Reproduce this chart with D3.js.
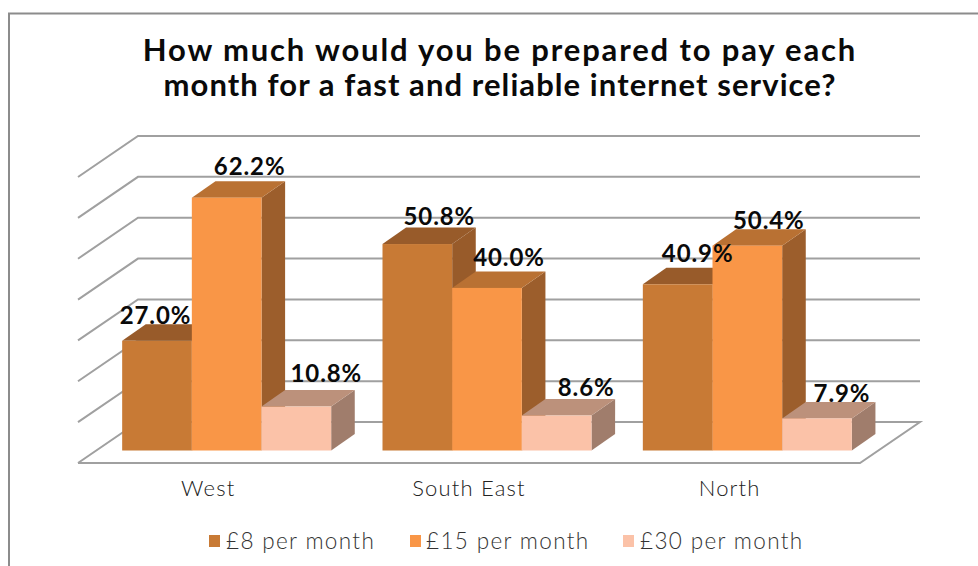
<!DOCTYPE html>
<html><head><meta charset="utf-8">
<script src="https://cdn.jsdelivr.net/npm/d3@7/dist/d3.min.js"></script>
<style>html,body{margin:0;padding:0;background:#fff}svg{display:block}text{font-family:Lato,"Open Sans",sans-serif}</style>
</head><body><svg id="c" width="978" height="566"></svg>
<script>
const titleLines = ["How much would you be prepared to pay each", "month for a fast and reliable internet service?"];
const categories = ["West", "South East", "North"];
const seriesNames = ["£8 per month", "£15 per month", "£30 per month"];
const series8 = [27.0, 50.8, 40.9];
const series15 = [62.2, 40.0, 50.4];
const series30 = [10.8, 8.6, 7.9];
const valueTicks = [0, 10, 20, 30, 40, 50, 60, 70];

// styling and layout
const frontColors = ["#c87a35", "#f99647", "#fbc2a8"];
const topColors = ["#985b2a", "#b97133", "#bc917b"];
const sideColors = ["#985b2a", "#9c5e2c", "#a07d6c"];
const gridColor = "#a0a0a0";
const titleSpacing = [1.85, 1.08];
const depth = {x: 60, y: -41};
const barDepth = {x: 23.6, y: -16.5};
// hand-placed label nudges from the bar's front-top centre, by series then category
const labelNudgeX = [[-1.5, 22, 20], [23, 22, 21.5], [30, 29.5, 25]];
const labelNudgeY = [[-17, -19, -22], [-23, -22, -16.5], [-25, -20, -16]];

const svg = d3.select("#c");
const data = [series8, series15, series30];

// frame: only top and left edges are visible
svg.append("path").attr("d", d3.line()([[9, 566], [9, 13.5], [978, 13.5]]))
  .attr("fill", "none").attr("stroke", "#8c8c8c").attr("stroke-width", 2);

// title
svg.append("g").selectAll("text").data(titleLines).join("text")
  .attr("x", 500).attr("y", (d, i) => 61 + i * 35)
  .attr("text-anchor", "middle").attr("font-size", 31).attr("font-weight", 700)
  .attr("letter-spacing", (d, i) => titleSpacing[i]).attr("fill", "#0a0a0a").text(d => d);

// scales
const floorX = d3.scaleBand().domain(categories).range([78, 860]);
const y = d3.scaleLinear().domain([0, 70]).range([422, 136]);
const barY = d3.scaleLinear().domain([0, 70]).range([450.5, 166]);
const barX = d3.scaleBand().domain(categories).range([96.5, 877.5]);
const inner = d3.scaleBand().domain(d3.range(3)).range([0, 209]);

// walls and floor
const grid = svg.append("g").attr("fill", "none").attr("stroke", gridColor).attr("stroke-width", 2);
const x0 = floorX.range()[0], x1 = floorX.range()[1];
grid.selectAll("path.g").data(valueTicks.slice(1)).join("path").attr("class", "g")
  .attr("d", v => d3.line()([[x0 + 0, y(v) - depth.y], [x0 + depth.x, y(v)], [x1 + depth.x, y(v)]]));
grid.append("path").attr("d", d3.line()([[x0, y(0) - depth.y], [x1, y(0) - depth.y], [x1 + depth.x, y(0)], [x0 + depth.x, y(0)], [x0, y(0) - depth.y]]));

// bars
const bars = svg.append("g");
categories.forEach((cat, c) => {
  const bandMid = barX(cat) + barX.bandwidth() / 2;
  const start = bandMid - 104.5;
  data.forEach((vals, s) => {
    const l = start + inner(s), r = l + inner.bandwidth();
    const t = barY(vals[c]), b = barY(0);
    const dx = barDepth.x, dy = barDepth.y;
    bars.append("path").attr("fill", sideColors[s])
      .attr("d", d3.line()([[r, t], [r + dx, t + dy], [r + dx, b + dy], [r, b]]) + "Z");
    bars.append("path").attr("fill", topColors[s])
      .attr("d", d3.line()([[l, t], [l + dx, t + dy], [r + dx, t + dy], [r, t]]) + "Z");
    bars.append("rect").attr("x", l).attr("y", t).attr("width", r - l).attr("height", b - t)
      .attr("fill", frontColors[s]);
  });
});

// data labels
const labels = svg.append("g");
categories.forEach((cat, c) => {
  const bandMid = barX(cat) + barX.bandwidth() / 2;
  const start = bandMid - 104.5;
  data.forEach((vals, s) => {
    labels.append("text")
      .attr("x", start + inner(s) + inner.bandwidth() / 2 + labelNudgeX[s][c])
      .attr("y", barY(vals[c]) + labelNudgeY[s][c])
      .attr("text-anchor", "middle").attr("font-size", 24).attr("font-weight", 700)
      .attr("letter-spacing", 0.9).attr("fill", "#0a0a0a")
      .text(d3.format(".1f")(vals[c]) + "%");
  });
});

// category axis labels
svg.append("g").selectAll("text").data(categories).join("text")
  .attr("x", d => floorX(d) + floorX.bandwidth() / 2).attr("y", 496)
  .attr("text-anchor", "middle").attr("font-size", 22).attr("font-weight", 300).attr("letter-spacing", 1.2)
  .attr("fill", "#222").text(d => d);

// legend
const legendSwatchX = [209, 410, 623];
const legendTextX = [226, 426, 640];
const legend = svg.append("g");
seriesNames.forEach((name, i) => {
  legend.append("rect").attr("x", legendSwatchX[i]).attr("y", 535).attr("width", 11).attr("height", 12)
    .attr("fill", frontColors[i]);
  legend.append("text").attr("x", legendTextX[i]).attr("y", 549)
    .attr("font-size", 22.5).attr("font-weight", 300).attr("letter-spacing", 1.35).attr("fill", "#333").text(name);
});
</script></body></html>
